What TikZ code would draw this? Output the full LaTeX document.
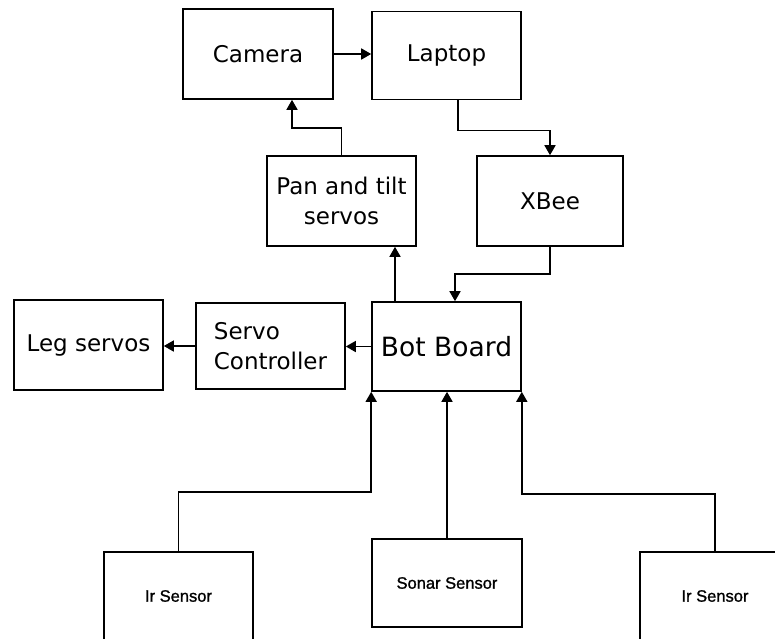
\documentclass[tikz,border=0pt]{standalone}
\usepackage{fontspec}
\setmainfont{DejaVu Sans}
\newfontfamily\sensorfont[FakeBold=1.2]{Liberation Sans}
\usetikzlibrary{arrows.meta}
\tikzset{
  blk/.style={draw, line width=1.6pt, inner sep=0pt, font=\fontsize{23}{30}\selectfont},
  sensorbox/.style={draw, line width=1.6pt, inner sep=0pt, font=\sensorfont\fontsize{16.5}{20}\selectfont},
  conn/.style={line width=1.6pt, -{Triangle[width=11pt,length=10pt]}},
}
\begin{document}
\begin{tikzpicture}[x=1pt,y=-1pt]
\useasboundingbox (0,0) rectangle (775,638);
\clip (0,0) rectangle (775,638);
\fill[white] (0,0) rectangle (775,638);
% top row
\node[blk, minimum width=150pt, minimum height=90pt] (camera) at (258,54) {Camera};
\node[blk, minimum width=149pt, minimum height=88pt] (laptop) at (446.5,55.5) {Laptop};
% middle row
\node[blk, minimum width=149pt, minimum height=90pt, align=center] (pan) at (341.5,201) {Pan and tilt\\servos};
\node[blk, minimum width=146pt, minimum height=90pt] (xbee) at (550,201) {XBee};
% board row
\node[blk, minimum width=149pt, minimum height=90pt] (leg) at (88.5,345) {Leg servos};
\node[blk, minimum width=149pt, minimum height=86pt, align=left] (servo) at (270.5,346) {Servo\\Controller};
\node[blk, minimum width=149pt, minimum height=89pt, font=\fontsize{26.5}{31}\selectfont] (bot) at (446.5,346.5) {Bot Board};
% sensors
\node[sensorbox, minimum width=149pt, minimum height=88pt] (irl) at (178.5,596) {Ir Sensor};
\node[sensorbox, minimum width=150pt, minimum height=88pt] (sonar) at (447,583) {Sonar Sensor};
\node[sensorbox, minimum width=150pt, minimum height=88pt] (irr) at (715,596) {Ir Sensor};
% connectors
\draw[conn] (camera.east) -- (camera.east -| laptop.west);
\draw[conn] (pan.north) -- ++(0,-27) -| ([xshift=34]camera.south);
\draw[conn] ([xshift=11.5]laptop.south) -- ++(0,30) -| (xbee.north);
\draw[conn] (xbee.south) -- ++(0,27) -| ([xshift=8.5]bot.north);
\draw[conn] ([xshift=-51.5]bot.north) -- ([xshift=-51.5]bot.north |- pan.south);
\draw[conn] (bot.west) -- (bot.west -| servo.east);
\draw[conn] (servo.west) -- (servo.west -| leg.east);
\draw[conn] (irl.north) -- ++(0,-59) -| (bot.south west);
\draw[conn] (sonar.north) -- (sonar.north |- bot.south);
\draw[conn] (irr.north) -- ++(0,-57) -| (bot.south east);
\end{tikzpicture}
\end{document}
